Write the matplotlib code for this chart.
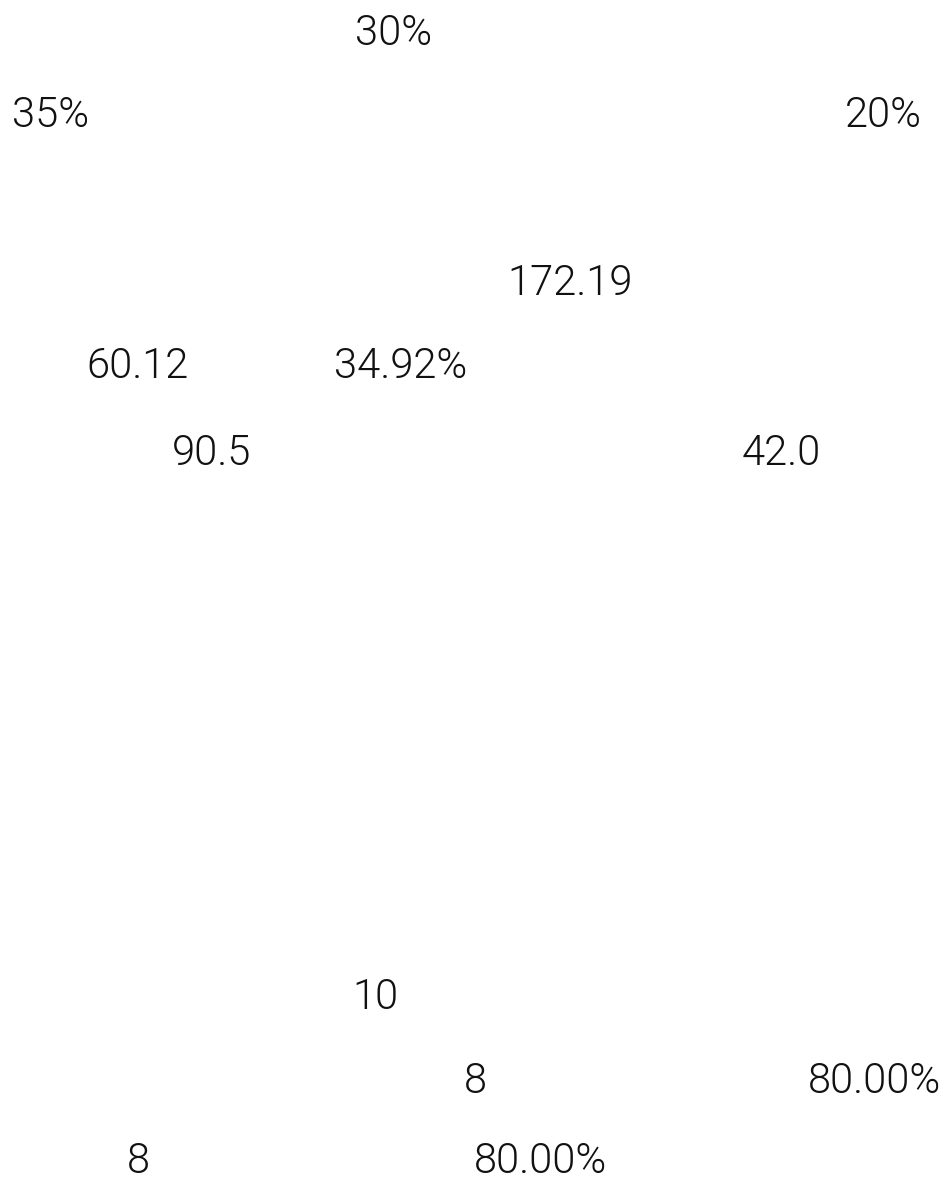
import matplotlib
matplotlib.use('Agg')
import matplotlib.pyplot as plt

# Datos visibles en la imagen
porcentajes = [30, 35, 20]            # reparto superior (%)
total = 172.19
parcial = 60.12
parcial_pct = 34.92
valor_a = 90.5
valor_b = 42.0
conteo_total = 10
conteos = [8, 8]
tasas = [80.00, 80.00]

plt.rcParams['font.family'] = ['Roboto', 'DejaVu Sans']

W, H = 946, 1182
fig = plt.figure(figsize=(W / 100, H / 100), dpi=100)
fig.patch.set_facecolor('white')


def etiqueta(x, y_base, texto):
    # x: borde izquierdo en px, y_base: línea base en px desde arriba
    fig.text(x / W, 1 - y_base / H, texto, ha='left', va='baseline',
             fontsize=30, fontweight=300, color='#111111')


# Porcentajes superiores
etiqueta(355, 45, f"{porcentajes[0]}%")
etiqueta(12, 127, f"{porcentajes[1]}%")
etiqueta(845, 127, f"{porcentajes[2]}%")

# Valores centrales
etiqueta(507, 295, f"{total:.2f}")
etiqueta(86, 378, f"{parcial:.2f}")
etiqueta(334, 378, f"{parcial_pct:.2f}%")
etiqueta(172, 465, f"{valor_a:.1f}")
etiqueta(742, 465, f"{valor_b:.1f}")

# Conteos inferiores
etiqueta(352, 1009, f"{conteo_total}")
etiqueta(464, 1093, f"{conteos[0]}")
etiqueta(808, 1093, f"{tasas[0]:.2f}%")
etiqueta(127, 1173, f"{conteos[1]}")
etiqueta(474, 1173, f"{tasas[1]:.2f}%")

fig.savefig('out.png', dpi=100, facecolor='white')
